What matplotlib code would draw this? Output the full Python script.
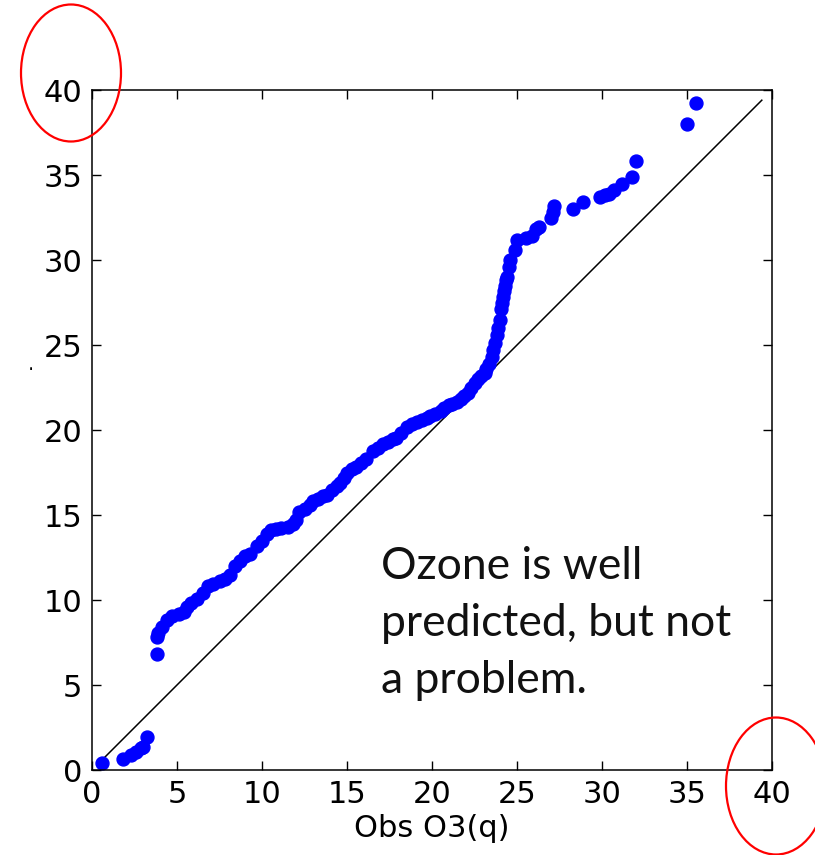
import matplotlib
matplotlib.use('Agg')
import matplotlib.pyplot as plt
from matplotlib.patches import Ellipse, Rectangle

# quantiles: observed ozone (x) against modelled ozone (y)
obs_q = [0.6, 1.8, 2.3, 2.6, 2.9, 3.0, 3.25, 3.8, 3.85, 3.9, 4.1, 4.4, 4.7,
         5.1, 5.4, 5.6, 5.8, 6.2, 6.5, 6.8, 7.1, 7.5, 7.8, 8.1, 8.4, 8.7,
         9.0, 9.3, 9.7, 10.0, 10.3, 10.5, 10.8, 11.1, 11.5, 11.8, 12.0, 12.2,
         12.5, 12.8, 13.0, 13.3, 13.6, 13.8, 14.1, 14.4, 14.6, 14.8, 15.0,
         15.3, 15.5, 15.8, 16.1, 16.5, 16.8, 17.1, 17.4, 17.7, 17.9, 18.2,
         18.5, 18.8, 19.1, 19.4, 19.7, 19.9, 20.2, 20.5, 20.7, 21.0, 21.2,
         21.45, 21.7, 21.9, 22.1, 22.3, 22.5, 22.7, 22.9, 23.1, 23.2, 23.35,
         23.5, 23.6, 23.7, 23.8, 23.9, 24.0, 24.05, 24.1, 24.15, 24.25, 24.3,
         24.35, 24.4, 24.5, 24.6, 24.9, 25.0, 25.5, 25.9, 26.1, 26.3, 27.0,
         27.1, 27.15, 28.3, 28.9, 29.9, 30.2, 30.4, 30.7, 31.2, 31.75, 32.0,
         35.0, 35.5]
mod_q = [0.4, 0.63, 0.88, 1.08, 1.27, 1.35, 1.94, 6.82, 7.8, 8.05, 8.43, 8.82,
         9.06, 9.2, 9.31, 9.6, 9.85, 10.05, 10.4, 10.8, 10.95, 11.1, 11.25,
         11.5, 12.0, 12.3, 12.6, 12.7, 13.2, 13.5, 13.9, 14.1, 14.15, 14.25,
         14.3, 14.5, 14.7, 15.2, 15.35, 15.6, 15.8, 15.95, 16.1, 16.2, 16.45,
         16.7, 16.9, 17.2, 17.5, 17.7, 17.85, 18.05, 18.3, 18.75, 18.95,
         19.15, 19.3, 19.45, 19.55, 19.8, 20.2, 20.35, 20.5, 20.6, 20.7, 20.8,
         20.95, 21.1, 21.3, 21.45, 21.55, 21.65, 21.85, 22.0, 22.2, 22.5,
         22.75, 23.0, 23.2, 23.35, 23.6, 23.9, 24.3, 24.7, 25.1, 25.6, 26.0,
         26.5, 27.1, 27.5, 27.8, 28.2, 28.5, 28.8, 29.0, 29.6, 30.0, 30.6,
         31.2, 31.3, 31.4, 31.8, 31.95, 32.45, 32.85, 33.15, 33.0, 33.4, 33.7,
         33.8, 33.9, 34.1, 34.5, 34.9, 35.85, 38.0, 39.25]
one_to_one = [0.6, 39.4]
ticks = [0, 5, 10, 15, 20, 25, 30, 35, 40]

W, H = 815, 855
fig = plt.figure(figsize=(W / 100, H / 100), dpi=100)
ax = fig.add_axes([92 / W, 85 / H, 680 / W, 680 / H])

ax.plot(one_to_one, one_to_one, color='black', lw=1.1)
ax.plot(obs_q, mod_q, 'o', color='blue', mec='blue', ms=9.3)

ax.set_xlim(0, 40)
ax.set_ylim(0, 40)
ax.set_xticks(ticks)
ax.set_yticks(ticks)
ax.tick_params(direction='in', length=6.5, width=1, labelsize=22, pad=7,
               top=True, right=True)
for s in ax.spines.values():
    s.set_linewidth(1.1)
ax.set_xlabel('Obs O3(q)', fontsize=22, labelpad=4)

# y label, mostly hidden behind the white strip at the left edge
fig.text(33 / W, 1 - 352 / H, 'Mod O3(q)', rotation=90, ha='right', va='top',
         fontsize=22, zorder=3)
fig.add_artist(Rectangle((0, 0), 29 / W, 1, transform=fig.transFigure,
                         color='white', zorder=4))

fig.text(381 / W, 1 - 546 / H, 'Ozone is well\npredicted, but not\na problem.',
         family='Lato', fontsize=32, va='top', ha='left', linespacing=1.48,
         color='#111111', zorder=5)

# red rings round the two "40" labels
for cx, cy in [(71, 73), (776, 786)]:
    fig.add_artist(Ellipse((cx / W, 1 - cy / H), 100 / W, 137 / H,
                           transform=fig.transFigure, fill=False,
                           edgecolor='red', lw=1.6, zorder=6))

fig.savefig('out.png', dpi=100)
